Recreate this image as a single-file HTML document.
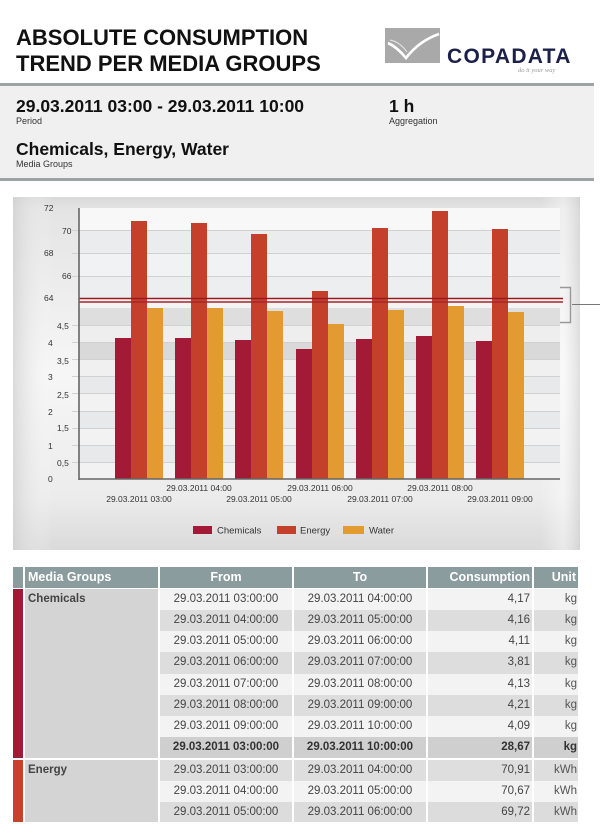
<!DOCTYPE html>
<html><head><meta charset="utf-8"><style>
*{margin:0;padding:0;box-sizing:border-box}
body{width:600px;height:840px;background:#fff;position:relative;overflow:hidden;font-family:"Liberation Sans",Arial,sans-serif;color:#222}
.a{position:absolute;white-space:nowrap}
.t1{font-weight:bold;font-size:22px;color:#111;left:16px;line-height:26px}
.cell{position:absolute;font-size:11.5px;color:#444;line-height:21px;white-space:nowrap;overflow:hidden}
.hd{position:absolute;background:#8a9c9e;color:#fff;font-weight:bold;font-size:12.5px;line-height:21px;top:567px;height:21px;white-space:nowrap}
</style></head><body>
<!-- header -->
<div class="a t1" style="top:25px">ABSOLUTE CONSUMPTION</div>
<div class="a t1" style="top:51px">TREND PER MEDIA GROUPS</div>
<svg class="a" style="left:0;top:0" width="600" height="90">
<rect x="385" y="28" width="55" height="35" fill="#a9a9a9"/>
<path d="M388,43 Q397,47 406,58 Q419,41 439,34" stroke="#fff" stroke-width="2.6" fill="none"/>
<path d="M390,40 Q400,42 407,52" stroke="#e8e8e8" stroke-width="1" fill="none"/>
<text x="447" y="63" font-family="Liberation Sans" font-weight="bold" font-size="21" letter-spacing="1.3" fill="#1b2049">COPADATA</text>
<text x="518" y="72" font-family="Liberation Serif" font-style="italic" font-size="6.5" fill="#999">do it your way</text>
</svg>
<div class="a" style="left:0;top:83px;width:594px;height:3px;background:#9ea3a3"></div>
<div class="a" style="left:0;top:86px;width:594px;height:92px;background:#f0f0f0"></div>
<div class="a" style="left:0;top:178px;width:594px;height:3px;background:#9ea3a3"></div>
<div class="a" style="left:16px;top:96px;font-size:17.5px;font-weight:bold;color:#111">29.03.2011 03:00 - 29.03.2011 10:00</div>
<div class="a" style="left:16px;top:116px;font-size:9px;color:#333">Period</div>
<div class="a" style="left:389px;top:96px;font-size:17.5px;font-weight:bold;color:#111">1 h</div>
<div class="a" style="left:389px;top:116px;font-size:9px;color:#333">Aggregation</div>
<div class="a" style="left:16px;top:139px;font-size:17.5px;font-weight:bold;color:#111">Chemicals, Energy, Water</div>
<div class="a" style="left:16px;top:159px;font-size:9px;color:#333">Media Groups</div>

<!-- chart -->
<svg class="a" style="left:0;top:0" width="600" height="560" font-family="Liberation Sans, sans-serif">
<defs>
<linearGradient id="pv" x1="0" y1="0" x2="0" y2="1">
<stop offset="0" stop-color="#d9d9d9"/><stop offset="0.035" stop-color="#e4e4e4"/>
<stop offset="0.5" stop-color="#f6f6f6"/><stop offset="0.85" stop-color="#ececec"/><stop offset="1" stop-color="#dadada"/>
</linearGradient>
<linearGradient id="ph" x1="0" y1="0" x2="1" y2="0">
<stop offset="0" stop-color="#cfcfcf" stop-opacity="0.7"/><stop offset="0.07" stop-color="#fff" stop-opacity="0"/>
<stop offset="0.93" stop-color="#fff" stop-opacity="0"/><stop offset="0.97" stop-color="#fff" stop-opacity="0.4"/><stop offset="1" stop-color="#cfcfcf" stop-opacity="0.6"/>
</linearGradient>
</defs>
<rect x="13" y="197" width="567" height="353" fill="url(#pv)"/>
<rect x="13" y="197" width="567" height="353" fill="url(#ph)"/>
<!-- plot bg -->
<rect x="79" y="208" width="481" height="271" fill="#f3f4f5"/>
<rect x="79" y="208" width="481" height="22" fill="#f8f8f9"/>
<rect x="79" y="230" width="481" height="23" fill="#eaecee"/>
<rect x="79" y="253" width="481" height="23" fill="#f1f2f4"/>
<rect x="79" y="276" width="481" height="22" fill="#eceef0"/>
<rect x="79" y="302" width="481" height="6" fill="#f4f4f4"/>
<rect x="79" y="308" width="481" height="17" fill="#dedede"/>
<rect x="79" y="325" width="481" height="18" fill="#eeeeee"/>
<rect x="79" y="343" width="481" height="17" fill="#d9d9d9"/>
<rect x="79" y="360" width="481" height="17" fill="#f0f0f0"/>
<rect x="79" y="377" width="481" height="17" fill="#e8e9ea"/>
<rect x="79" y="394" width="481" height="17" fill="#f2f2f2"/>
<rect x="79" y="411" width="481" height="17" fill="#e8e9ea"/>
<rect x="79" y="428" width="481" height="17" fill="#f2f2f2"/>
<rect x="79" y="445" width="481" height="17" fill="#e8e9ea"/>
<rect x="79" y="462" width="481" height="17" fill="#f2f2f2"/>
<g stroke="#cfd1d3" stroke-width="1">
<line x1="72" y1="230.5" x2="560" y2="230.5"/><line x1="72" y1="253.5" x2="560" y2="253.5"/>
<line x1="72" y1="276.5" x2="560" y2="276.5"/>
<line x1="72" y1="325.5" x2="560" y2="325.5"/><line x1="72" y1="342.5" x2="560" y2="342.5"/>
<line x1="72" y1="359.5" x2="560" y2="359.5"/><line x1="72" y1="376.5" x2="560" y2="376.5"/>
<line x1="72" y1="393.5" x2="560" y2="393.5"/><line x1="72" y1="411.5" x2="560" y2="411.5"/>
<line x1="72" y1="428.5" x2="560" y2="428.5"/><line x1="72" y1="445.5" x2="560" y2="445.5"/>
<line x1="72" y1="462.5" x2="560" y2="462.5"/>
</g>
<!-- bars -->
<g>
<rect x="115" y="338" width="16" height="141" fill="#a31a36"/><rect x="131" y="221" width="16" height="258" fill="#c4402b"/><rect x="147" y="308" width="16" height="171" fill="#e29a31"/>
<rect x="175" y="338" width="16" height="141" fill="#a31a36"/><rect x="191" y="223" width="16" height="256" fill="#c4402b"/><rect x="207" y="308" width="16" height="171" fill="#e29a31"/>
<rect x="235" y="340" width="16" height="139" fill="#a31a36"/><rect x="251" y="234" width="16" height="245" fill="#c4402b"/><rect x="267" y="311" width="16" height="168" fill="#e29a31"/>
<rect x="296" y="349" width="16" height="130" fill="#a31a36"/><rect x="312" y="291" width="16" height="188" fill="#c4402b"/><rect x="328" y="324" width="16" height="155" fill="#e29a31"/>
<rect x="356" y="339" width="16" height="140" fill="#a31a36"/><rect x="372" y="228" width="16" height="251" fill="#c4402b"/><rect x="388" y="310" width="16" height="169" fill="#e29a31"/>
<rect x="416" y="336" width="16" height="143" fill="#a31a36"/><rect x="432" y="211" width="16" height="268" fill="#c4402b"/><rect x="448" y="306" width="16" height="173" fill="#e29a31"/>
<rect x="476" y="341" width="16" height="138" fill="#a31a36"/><rect x="492" y="229" width="16" height="250" fill="#c4402b"/><rect x="508" y="312" width="16" height="167" fill="#e29a31"/>
</g>
<!-- break lines -->
<line x1="79" y1="298.5" x2="563" y2="298.5" stroke="#9a1b1f" stroke-width="1.6"/>
<line x1="79" y1="302" x2="563" y2="302" stroke="#a8242a" stroke-width="1.6"/>
<!-- axes -->
<line x1="79" y1="208" x2="79" y2="480" stroke="#666" stroke-width="1.6"/>
<line x1="79" y1="479" x2="560" y2="479" stroke="#666" stroke-width="1.6"/>
<!-- bracket -->
<path d="M560,287.5 H570.5 V322.5 H560" stroke="#999" stroke-width="1.4" fill="none"/>
<line x1="572" y1="304.5" x2="600" y2="304.5" stroke="#777" stroke-width="1"/>
<!-- y labels -->
<g font-size="8.5" fill="#333">
<text x="44" y="211">72</text><text x="62" y="234">70</text><text x="44" y="256">68</text>
<text x="62" y="279">66</text><text x="44" y="301">64</text>
<text x="57" y="329">4,5</text><text x="48" y="346">4</text><text x="57" y="364">3,5</text>
<text x="48" y="380">3</text><text x="57" y="398">2,5</text><text x="48" y="415">2</text>
<text x="57" y="431">1,5</text><text x="48" y="449">1</text><text x="57" y="466">0,5</text>
<text x="48" y="482">0</text>
</g>
<!-- x labels -->
<g font-size="8.5" fill="#333" text-anchor="middle">
<text x="199" y="491">29.03.2011 04:00</text><text x="320" y="491">29.03.2011 06:00</text><text x="440" y="491">29.03.2011 08:00</text>
<text x="139" y="502">29.03.2011 03:00</text><text x="259" y="502">29.03.2011 05:00</text><text x="380" y="502">29.03.2011 07:00</text><text x="500" y="502">29.03.2011 09:00</text>
</g>
<!-- legend -->
<rect x="193" y="526" width="19" height="8" fill="#a31a36"/>
<text x="217" y="533.5" font-size="9.5" fill="#333">Chemicals</text>
<rect x="277" y="526" width="19" height="8" fill="#c4402b"/>
<text x="300" y="533.5" font-size="9.5" fill="#333">Energy</text>
<rect x="343" y="526" width="21" height="8" fill="#e29a31"/>
<text x="369" y="533.5" font-size="9.5" fill="#333">Water</text>
</svg>

<!-- table header -->
<div class="hd" style="left:13px;width:10px"></div>
<div class="hd" style="left:25px;width:133px;padding-left:3px">Media Groups</div>
<div class="hd" style="left:160px;width:132px;text-align:center">From</div>
<div class="hd" style="left:294px;width:132px;text-align:center">To</div>
<div class="hd" style="left:428px;width:104px;text-align:right;padding-right:2px">Consumption</div>
<div class="hd" style="left:534px;width:44px;text-align:right;padding-right:2px">Unit</div>

<!-- stripes & media group cells -->
<div class="a" style="left:13px;top:589px;width:10px;height:169px;background:#a31a36"></div>
<div class="a" style="left:25px;top:589px;width:133px;height:169px;background:#d4d4d4"></div>
<div class="cell" style="left:28px;top:589px;font-weight:bold">Chemicals</div>
<div class="a" style="left:13px;top:760px;width:10px;height:62px;background:#c8412b"></div>
<div class="a" style="left:25px;top:760px;width:133px;height:62px;background:#d4d4d4"></div>
<div class="cell" style="left:28px;top:760px;font-weight:bold">Energy</div>

<!-- rows -->
<div id="rows"></div>
<div class="a" style="left:160px;top:589px;width:418px;height:233px">
</div>
<div style="position:absolute;left:0;top:0">
<!-- row template: bg colors -->
<div class="a" style="left:160px;top:589px;width:418px;height:21px;background:#f3f3f3"></div>
<div class="a" style="left:160px;top:610px;width:418px;height:21px;background:#dddddd"></div>
<div class="a" style="left:160px;top:631px;width:418px;height:21px;background:#f3f3f3"></div>
<div class="a" style="left:160px;top:652px;width:418px;height:22px;background:#dddddd"></div>
<div class="a" style="left:160px;top:674px;width:418px;height:21px;background:#f3f3f3"></div>
<div class="a" style="left:160px;top:695px;width:418px;height:21px;background:#dddddd"></div>
<div class="a" style="left:160px;top:716px;width:418px;height:21px;background:#f3f3f3"></div>
<div class="a" style="left:160px;top:737px;width:418px;height:21px;background:#cfcfcf"></div>
<div class="a" style="left:160px;top:760px;width:418px;height:21px;background:#dedede"></div>
<div class="a" style="left:160px;top:781px;width:418px;height:21px;background:#f3f3f3"></div>
<div class="a" style="left:160px;top:802px;width:418px;height:20px;background:#dcdcdc"></div>
<!-- column separators -->
<div class="a" style="left:292px;top:589px;width:2px;height:233px;background:#fff"></div>
<div class="a" style="left:426px;top:589px;width:2px;height:233px;background:#fff"></div>
<div class="a" style="left:532px;top:589px;width:2px;height:233px;background:#fff"></div>
</div>

<!-- cell texts -->
<div style="position:absolute;left:0;top:0">
<div class="cell" style="left:160px;top:589px;width:132px;text-align:center">29.03.2011 03:00:00</div>
<div class="cell" style="left:294px;top:589px;width:132px;text-align:center">29.03.2011 04:00:00</div>
<div class="cell" style="left:428px;top:589px;width:102px;text-align:right">4,17</div>
<div class="cell" style="left:534px;top:589px;width:43px;text-align:right;color:#555">kg</div>

<div class="cell" style="left:160px;top:610px;width:132px;text-align:center">29.03.2011 04:00:00</div>
<div class="cell" style="left:294px;top:610px;width:132px;text-align:center">29.03.2011 05:00:00</div>
<div class="cell" style="left:428px;top:610px;width:102px;text-align:right">4,16</div>
<div class="cell" style="left:534px;top:610px;width:43px;text-align:right;color:#555">kg</div>

<div class="cell" style="left:160px;top:631px;width:132px;text-align:center">29.03.2011 05:00:00</div>
<div class="cell" style="left:294px;top:631px;width:132px;text-align:center">29.03.2011 06:00:00</div>
<div class="cell" style="left:428px;top:631px;width:102px;text-align:right">4,11</div>
<div class="cell" style="left:534px;top:631px;width:43px;text-align:right;color:#555">kg</div>

<div class="cell" style="left:160px;top:652px;width:132px;text-align:center">29.03.2011 06:00:00</div>
<div class="cell" style="left:294px;top:652px;width:132px;text-align:center">29.03.2011 07:00:00</div>
<div class="cell" style="left:428px;top:652px;width:102px;text-align:right">3,81</div>
<div class="cell" style="left:534px;top:652px;width:43px;text-align:right;color:#555">kg</div>

<div class="cell" style="left:160px;top:674px;width:132px;text-align:center">29.03.2011 07:00:00</div>
<div class="cell" style="left:294px;top:674px;width:132px;text-align:center">29.03.2011 08:00:00</div>
<div class="cell" style="left:428px;top:674px;width:102px;text-align:right">4,13</div>
<div class="cell" style="left:534px;top:674px;width:43px;text-align:right;color:#555">kg</div>

<div class="cell" style="left:160px;top:695px;width:132px;text-align:center">29.03.2011 08:00:00</div>
<div class="cell" style="left:294px;top:695px;width:132px;text-align:center">29.03.2011 09:00:00</div>
<div class="cell" style="left:428px;top:695px;width:102px;text-align:right">4,21</div>
<div class="cell" style="left:534px;top:695px;width:43px;text-align:right;color:#555">kg</div>

<div class="cell" style="left:160px;top:716px;width:132px;text-align:center">29.03.2011 09:00:00</div>
<div class="cell" style="left:294px;top:716px;width:132px;text-align:center">29.03.2011 10:00:00</div>
<div class="cell" style="left:428px;top:716px;width:102px;text-align:right">4,09</div>
<div class="cell" style="left:534px;top:716px;width:43px;text-align:right;color:#555">kg</div>

<div class="cell" style="left:160px;top:737px;width:132px;text-align:center;font-weight:bold;color:#333">29.03.2011 03:00:00</div>
<div class="cell" style="left:294px;top:737px;width:132px;text-align:center;font-weight:bold;color:#333">29.03.2011 10:00:00</div>
<div class="cell" style="left:428px;top:737px;width:102px;text-align:right;font-weight:bold;color:#333">28,67</div>
<div class="cell" style="left:534px;top:737px;width:43px;text-align:right;font-weight:bold;color:#333">kg</div>

<div class="cell" style="left:160px;top:760px;width:132px;text-align:center">29.03.2011 03:00:00</div>
<div class="cell" style="left:294px;top:760px;width:132px;text-align:center">29.03.2011 04:00:00</div>
<div class="cell" style="left:428px;top:760px;width:102px;text-align:right">70,91</div>
<div class="cell" style="left:534px;top:760px;width:43px;text-align:right;color:#555">kWh</div>

<div class="cell" style="left:160px;top:781px;width:132px;text-align:center">29.03.2011 04:00:00</div>
<div class="cell" style="left:294px;top:781px;width:132px;text-align:center">29.03.2011 05:00:00</div>
<div class="cell" style="left:428px;top:781px;width:102px;text-align:right">70,67</div>
<div class="cell" style="left:534px;top:781px;width:43px;text-align:right;color:#555">kWh</div>

<div class="cell" style="left:160px;top:802px;width:132px;text-align:center">29.03.2011 05:00:00</div>
<div class="cell" style="left:294px;top:802px;width:132px;text-align:center">29.03.2011 06:00:00</div>
<div class="cell" style="left:428px;top:802px;width:102px;text-align:right">69,72</div>
<div class="cell" style="left:534px;top:802px;width:43px;text-align:right;color:#555">kWh</div>
</div>
</body></html>
